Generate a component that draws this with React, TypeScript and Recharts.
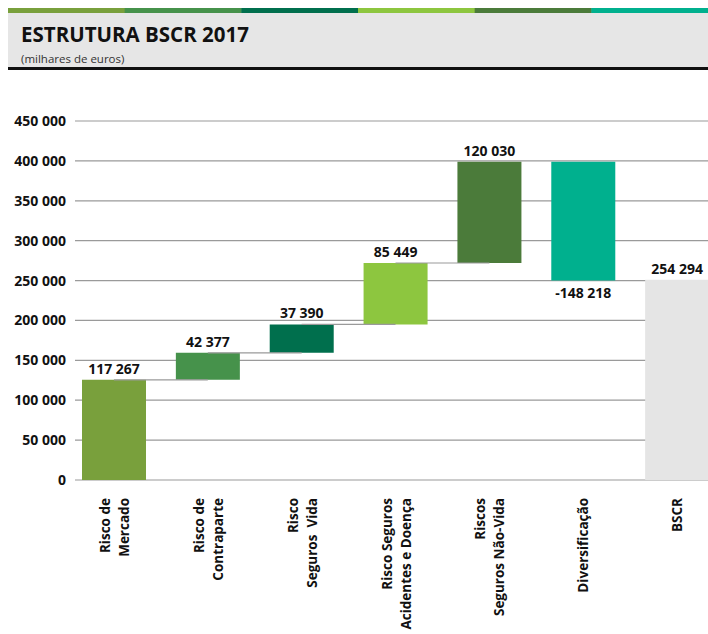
import React from 'react';
import { BarChart, Bar, XAxis, YAxis, CartesianGrid, Cell, LabelList, ReferenceLine } from 'recharts';

// categories and values (milhares de euros)
const categories = [
  'Risco de\nMercado',
  'Risco de\nContraparte',
  'Risco\nSeguros  Vida',
  'Risco Seguros\nAcidentes e Doença',
  'Riscos\nSeguros Não-Vida',
  'Diversificação',
  'BSCR',
];
const labelValues = [117267, 42377, 37390, 85449, 120030, -148218, 254294];
// bar extents as drawn in the picture
const barLow = [0, 125600, 159400, 195000, 272000, 250000, 0];
const barHigh = [125600, 159400, 195000, 272000, 399000, 399000, 251000];
const barColors = ['#79a03c', '#46924b', '#006f4d', '#8dc63f', '#4b7b3a', '#00b08e', '#e5e5e5'];
const stripeColors = ['#79a03c', '#46924b', '#006f4d', '#8dc63f', '#4b7b3a', '#00b08e'];
const yTicks = [0, 50000, 100000, 150000, 200000, 250000, 300000, 350000, 400000, 450000];

const FONT = '"Open Sans", sans-serif';

const fmt = (n: number) => {
  const s = String(Math.abs(n)).replace(/\B(?=(\d{3})+(?!\d))/g, ' ');
  return n < 0 ? '-' + s : s;
};

const data = categories.map((name, i) => ({
  name,
  range: [barLow[i], barHigh[i]],
  value: labelValues[i],
}));

const ValueLabel = (props: any) => {
  const { x, y, width, height, value } = props;
  const top = Math.min(y, y + height);
  const bottom = Math.max(y, y + height);
  const cx = x + width / 2;
  const ty = value < 0 ? bottom + 17 : top - 6;
  return (
    <text x={cx} y={ty} textAnchor="middle" fontFamily={FONT} fontWeight={700} fontSize={14} fill="#111">
      {fmt(value)}
    </text>
  );
};

const CategoryTick = (props: any) => {
  const { x, y, payload } = props;
  const lines = String(payload.value).split('\n');
  const centers = lines.length === 1 ? [0] : [-9, 10];
  return (
    <g transform={`translate(${x},${y})`}>
      <text transform="rotate(-90)" textAnchor="end" fontFamily={FONT} fontWeight={700} fontSize={13.5} fill="#111" style={{ whiteSpace: 'pre' }}>
        {lines.map((l, i) => (
          <tspan key={i} x={0} y={centers[i] + 5}>{l}</tspan>
        ))}
      </text>
    </g>
  );
};

export default function App() {
  const stripeW = 700 / stripeColors.length;
  return (
    <div style={{ position: 'absolute', left: 0, top: 0, width: 708, height: 634, overflow: 'hidden', background: '#fff' }}>
      <svg width={708} height={72} style={{ position: 'absolute', left: 0, top: 0 }}>
        {stripeColors.map((c, i) => (
          <rect key={i} x={8 + i * stripeW} y={8} width={stripeW + 0.5} height={5} fill={c} />
        ))}
        <rect x={8} y={13} width={700} height={54} fill="#e6e6e6" />
        <rect x={8} y={67} width={700} height={3} fill="#111" />
        <text x={21} y={42} fontFamily={FONT} fontWeight={700} fontSize={20.5} fill="#111">ESTRUTURA BSCR 2017</text>
        <text x={21} y={63} fontFamily={FONT} fontSize={11.5} fill="#333">(milhares de euros)</text>
      </svg>
      <div style={{ position: 'absolute', left: 8, top: 70 }}>
        <BarChart width={700} height={564} data={data} margin={{ top: 51, right: 0, bottom: 0, left: 0 }}>
          <CartesianGrid horizontal vertical={false} stroke="#9a9a9a" strokeWidth={1.2} />
          <XAxis
            dataKey="name"
            type="category"
            interval={0}
            height={154}
            axisLine={false}
            tickLine={false}
            tickSize={0}
            tickMargin={18}
            padding={{ left: -8, right: -16 }}
            tick={<CategoryTick />}
          />
          <YAxis
            type="number"
            domain={[0, 450000]}
            ticks={yTicks}
            width={67}
            axisLine={false}
            tickLine={false}
            tickSize={0}
            tickMargin={9}
            tickFormatter={fmt}
            tick={{ fontFamily: FONT, fontWeight: 700, fontSize: 14, fill: '#111' }}
          />
          {[0, 1, 2, 3].map((i) => (
            <ReferenceLine
              key={i}
              segment={[{ x: categories[i], y: barLow[i + 1] }, { x: categories[i + 1], y: barLow[i + 1] }]}
              stroke="#9a9a9a"
              strokeWidth={1.2}
              ifOverflow="visible"
            />
          ))}
          <Bar dataKey="range" barSize={64} isAnimationActive={false}>
            {data.map((d, i) => (
              <Cell key={i} fill={barColors[i]} />
            ))}
            <LabelList dataKey="value" content={<ValueLabel />} />
          </Bar>
        </BarChart>
      </div>
    </div>
  );
}
